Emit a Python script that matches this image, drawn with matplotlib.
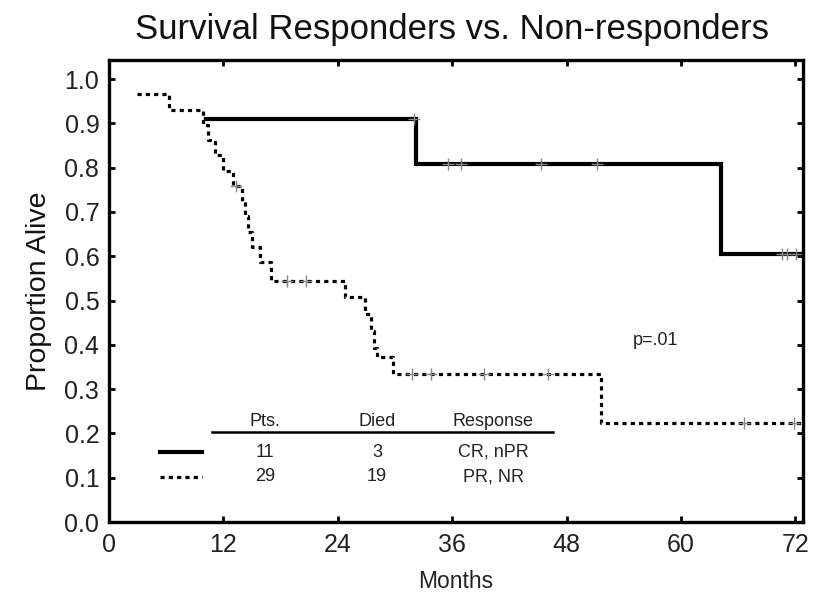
import matplotlib
matplotlib.use("Agg")
import matplotlib.pyplot as plt

plt.rcParams['font.family'] = ['Liberation Sans', 'DejaVu Sans']

# Responders (CR, nPR): step times and survival after each step
resp_time = [10.2, 32.2, 64.2, 72.7]
resp_surv = [0.909, 0.808, 0.606, 0.606]
resp_cens_t = [32.0, 35.6, 36.9, 45.3, 51.2, 70.6, 71.1, 72.1]
resp_cens_s = [0.909, 0.808, 0.808, 0.808, 0.808, 0.606, 0.606, 0.606]

# Non-responders (PR, NR)
nr_time = [2.9, 6.3, 9.9, 10.4, 11.1, 12.0, 13.0, 14.0, 14.3, 14.6, 15.0, 15.8, 17.0,
           24.8, 26.9, 27.5, 27.8, 28.1, 29.8, 51.6, 72.7]
nr_surv = [0.966, 0.931, 0.897, 0.862, 0.828, 0.793, 0.759, 0.724, 0.690, 0.655, 0.621,
           0.586, 0.545, 0.507, 0.469, 0.431, 0.393, 0.372, 0.335, 0.224, 0.224]
nr_cens_t = [13.3, 18.7, 20.7, 31.8, 33.8, 39.3, 46.0, 66.6, 71.9]
nr_cens_s = [0.759, 0.545, 0.545, 0.335, 0.335, 0.335, 0.335, 0.224, 0.224]

x_ticks = [0, 12, 24, 36, 48, 60, 72]
y_ticks = [0.0, 0.1, 0.2, 0.3, 0.4, 0.5, 0.6, 0.7, 0.8, 0.9, 1.0]

table_header = ["Pts.", "Died", "Response"]
table_rows = [["11", "3", "CR, nPR"], ["29", "19", "PR, NR"]]

fig = plt.figure(figsize=(8.15, 6.10), dpi=100)
ax = fig.add_axes([109/815, 88/610, 694/815, 462/610])

dot_style = (0, (1.3, 1.3))
ax.step(resp_time, resp_surv, where='post', color='black', lw=3.0, solid_joinstyle='miter')
ax.step(nr_time, nr_surv, where='post', color='black', lw=2.3, linestyle=dot_style)
ax.plot(resp_cens_t, resp_cens_s, linestyle='none', marker='+', color='#888888',
        markersize=9, mew=1.0)
ax.plot(nr_cens_t, nr_cens_s, linestyle='none', marker='+', color='#888888',
        markersize=9, mew=1.0)

ax.set_xlim(0, 72.8)
ax.set_ylim(0, 1.043)
ax.set_xticks(x_ticks)
ax.set_yticks(y_ticks)
ax.set_yticklabels([f"{v:.1f}" for v in y_ticks])
ax.tick_params(direction='in', length=4, width=2, top=True, right=True,
               labelsize=18, colors='black', labelcolor='#222222')
ax.tick_params(axis='x', pad=8)
ax.tick_params(axis='y', pad=7)
for s in ax.spines.values():
    s.set_linewidth(2.4)

ax.set_xlabel("Months", fontsize=16.5, color='#222222', labelpad=9)
ax.set_ylabel("Proportion Alive", fontsize=20.5, color='#111111', labelpad=9)
fig.suptitle("Survival Responders vs. Non-responders", fontsize=25, color='#111111',
             x=0.555, y=0.978, va='top')

# table legend
col_x = [16.4, 28.1, 40.3]
for cx, h in zip(col_x, table_header):
    ax.text(cx, 0.226, h, ha='center', va='center', fontsize=13, color='#222222')
ax.plot([10.8, 46.6], [0.203, 0.203], color='black', lw=1.8)
row_y = [0.158, 0.102]
for ry, row in zip(row_y, table_rows):
    for cx, val in zip(col_x, row):
        ax.text(cx, ry, val, ha='center', va='center', fontsize=13, color='#222222')
ax.plot([5.3, 9.8], [row_y[0], row_y[0]], color='black', lw=3.0)
ax.plot([5.3, 9.8], [row_y[1], row_y[1]], color='black', lw=2.3, linestyle=dot_style)

ax.text(57.3, 0.41, "p=.01", ha='center', va='center', fontsize=13, color='#222222')

fig.savefig("out.png", dpi=100)
